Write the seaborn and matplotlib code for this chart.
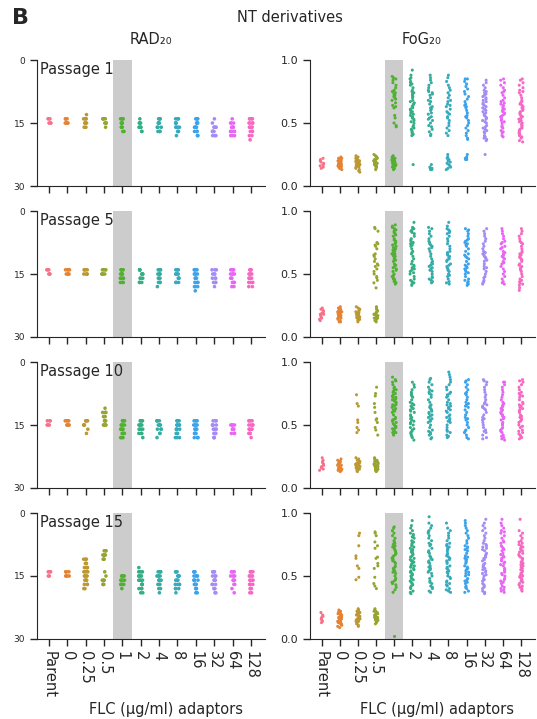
import numpy as np
import pandas as pd
import seaborn as sns
import matplotlib.pyplot as plt

# categories on the x axis (FLC concentration of the adaptors)
concs = ['Parent', '0', '0.25', '0.5', '1', '2', '4', '8', '16', '32', '64', '128']
passages = ['Passage 1', 'Passage 5', 'Passage 10', 'Passage 15']

# RAD20 values: {concentration: {RAD level: number of isolates}}
rad_p1 = {
    'Parent': {14: 3, 15: 3}, '0': {14: 4, 15: 4}, '0.25': {13: 1, 14: 4, 15: 4, 16: 2},
    '0.5': {14: 4, 15: 4, 16: 1}, '1': {14: 4, 15: 4, 16: 3, 17: 2}, '2': {14: 1, 15: 4, 16: 4, 17: 2},
    '4': {14: 4, 15: 4, 16: 3, 17: 3}, '8': {14: 4, 15: 4, 16: 4, 17: 3, 18: 1},
    '16': {14: 4, 15: 4, 16: 4, 17: 3, 18: 2}, '32': {14: 1, 15: 1, 16: 4, 17: 4, 18: 3},
    '64': {14: 1, 15: 3, 16: 4, 17: 4, 18: 3}, '128': {14: 4, 15: 4, 16: 4, 17: 3, 18: 2, 19: 1},
}
rad_p5 = {
    'Parent': {14: 3, 15: 3}, '0': {14: 4, 15: 4}, '0.25': {14: 4, 15: 4}, '0.5': {14: 4, 15: 4},
    '1': {14: 4, 15: 4, 16: 4, 17: 3}, '2': {14: 4, 15: 4, 16: 3, 17: 3},
    '4': {14: 4, 15: 4, 16: 3, 17: 3, 18: 1}, '8': {14: 4, 15: 4, 16: 3, 17: 3},
    '16': {14: 4, 15: 4, 16: 4, 17: 3, 18: 3, 19: 1}, '32': {14: 3, 15: 3, 16: 3, 17: 3, 18: 1},
    '64': {14: 4, 15: 4, 16: 3, 17: 3, 18: 2}, '128': {14: 4, 15: 4, 16: 4, 17: 3, 18: 2},
}
rad_p10 = {
    'Parent': {14: 3, 15: 3}, '0': {14: 4, 15: 4}, '0.25': {14: 4, 15: 4, 16: 1, 17: 1},
    '0.5': {11: 1, 12: 3, 13: 3, 14: 4, 15: 4}, '1': {14: 4, 15: 4, 16: 4, 17: 4, 18: 3},
    '2': {14: 4, 15: 4, 16: 4, 17: 3, 18: 1}, '4': {14: 4, 15: 4, 16: 3, 17: 2, 18: 1},
    '8': {14: 4, 15: 4, 16: 4, 17: 3, 18: 3}, '16': {14: 4, 15: 4, 16: 4, 17: 4, 18: 3},
    '32': {14: 3, 15: 4, 16: 4, 17: 3, 18: 3}, '64': {15: 4, 16: 4, 17: 3},
    '128': {14: 4, 15: 4, 16: 4, 17: 3, 18: 1},
}
rad_p15 = {
    'Parent': {14: 3, 15: 2}, '0': {14: 4, 15: 4},
    '0.25': {11: 3, 12: 3, 13: 4, 14: 4, 15: 4, 16: 4, 17: 3, 18: 2},
    '0.5': {9: 3, 10: 4, 11: 3, 14: 1, 15: 1, 16: 3, 17: 3}, '1': {15: 4, 16: 4, 17: 4, 18: 1},
    '2': {13: 1, 14: 4, 15: 4, 16: 4, 17: 4, 18: 3, 19: 2}, '4': {14: 4, 15: 4, 16: 4, 17: 3, 18: 2, 19: 1},
    '8': {14: 4, 15: 4, 16: 4, 17: 4, 18: 3, 19: 1}, '16': {14: 4, 15: 4, 16: 4, 17: 4, 18: 3, 19: 2},
    '32': {14: 4, 15: 4, 16: 4, 17: 3, 18: 3, 19: 2}, '64': {14: 4, 15: 4, 16: 3, 17: 2, 18: 1, 19: 1},
    '128': {14: 4, 15: 4, 16: 4, 17: 4, 18: 3, 19: 2},
}

# FoG20 values, in percent
fog_p1 = {
    'Parent': [14, 15, 16, 17, 17, 18, 19, 20, 21, 22],
    '0': [13, 14, 14, 15, 15, 16, 16, 17, 17, 18, 18, 18, 19, 19, 20, 20, 21, 21, 22, 22, 23, 16],
    '0.25': [11, 12, 13, 14, 15, 15, 16, 16, 17, 17, 18, 18, 19, 19, 20, 20, 21, 22, 22, 23, 24, 17],
    '0.5': [13, 14, 15, 15, 16, 16, 17, 17, 18, 18, 18, 19, 19, 20, 20, 21, 21, 22, 22, 23, 23, 24, 25, 17],
    '1': [13, 14, 15, 15, 16, 16, 17, 17, 18, 18, 19, 19, 20, 20, 21, 21, 22, 22, 23, 24,
          47, 48, 50, 54, 56, 62, 63, 64, 66, 68, 69, 70, 71, 72, 73, 74, 75, 76, 78, 80, 82, 84, 85, 86, 87],
    '2': [17, 40, 41, 42, 43, 44, 45, 46, 47, 48, 50, 51, 52, 53, 54, 55, 56, 57, 58, 59, 60, 61, 62, 63,
          64, 65, 66, 67, 68, 70, 71, 72, 73, 74, 75, 76, 78, 80, 81, 82, 83, 85, 86, 88, 92],
    '4': [13, 13, 14, 14, 15, 17, 40, 41, 43, 45, 47, 48, 50, 52, 53, 54, 55, 57, 58, 60, 61, 62, 63, 65,
          67, 68, 70, 72, 73, 74, 75, 76, 78, 80, 82, 84, 86, 88],
    '8': [13, 14, 15, 16, 17, 18, 19, 20, 21, 22, 23, 25, 40, 42, 44, 46, 48, 50, 52, 54, 55, 57, 58, 59,
          61, 63, 64, 65, 67, 68, 70, 72, 74, 76, 78, 80, 83, 86, 88],
    '16': [21, 21, 22, 22, 23, 25, 37, 38, 40, 42, 44, 46, 48, 50, 52, 54, 55, 56, 58, 60, 62, 63, 64, 65,
           67, 69, 71, 73, 75, 77, 79, 81, 83, 85, 85],
    '32': [25, 36, 37, 38, 39, 40, 42, 43, 44, 45, 46, 47, 48, 50, 51, 52, 53, 54, 55, 56, 57, 58, 59, 60,
           61, 62, 63, 64, 65, 66, 67, 68, 69, 70, 71, 72, 73, 74, 75, 76, 78, 80, 82, 84],
    '64': [39, 40, 42, 43, 44, 46, 47, 48, 50, 51, 52, 53, 54, 55, 56, 57, 58, 59, 60, 61, 62, 63, 64, 65,
           66, 67, 68, 70, 72, 74, 75, 76, 78, 80, 82, 84, 85],
    '128': [35, 36, 38, 39, 40, 41, 42, 43, 44, 45, 46, 47, 48, 49, 50, 51, 52, 53, 54, 55, 56, 57, 58, 59,
            60, 61, 62, 63, 64, 65, 66, 67, 68, 70, 72, 74, 75, 76, 78, 80, 82, 84, 85],
}
fog_p5 = {
    'Parent': [13, 14, 15, 16, 17, 18, 19, 20, 21, 22, 23, 18],
    '0': [12, 12, 13, 14, 15, 15, 16, 16, 17, 17, 18, 18, 19, 19, 20, 21, 21, 22, 23, 24, 16, 20],
    '0.25': [12, 13, 14, 14, 15, 15, 16, 17, 17, 18, 18, 19, 19, 20, 20, 21, 22, 23, 24, 16],
    '0.5': [12, 13, 14, 15, 15, 16, 17, 17, 18, 19, 20, 20, 21, 22, 23, 24, 18, 16,
            39, 43, 45, 47, 48, 52, 54, 56, 58, 60, 62, 64, 65, 66, 70, 72, 73, 74, 75, 84, 86, 87, 57, 50],
    '1': [42, 43, 44, 45, 46, 47, 48, 49, 50, 52, 53, 54, 55, 56, 57, 58, 60, 61, 62, 63, 64, 65, 66, 67,
          68, 69, 70, 71, 72, 73, 74, 75, 76, 77, 78, 80, 81, 82, 83, 84, 85, 86, 87, 88, 89, 44, 46, 64, 66, 70],
    '2': [41, 42, 44, 45, 46, 48, 50, 52, 53, 54, 55, 56, 58, 60, 62, 64, 66, 67, 68, 70, 72, 74, 75, 76,
          77, 78, 80, 82, 83, 84, 85, 86, 87, 91, 43, 51, 57, 73, 74],
    '4': [43, 44, 45, 46, 48, 50, 52, 54, 55, 56, 57, 58, 60, 62, 64, 66, 68, 70, 72, 73, 74, 75, 76, 78,
          80, 82, 84, 86, 87, 47, 53, 59, 71],
    '8': [42, 43, 44, 46, 48, 50, 52, 53, 54, 55, 56, 57, 58, 60, 62, 63, 64, 65, 66, 67, 68, 70, 72, 74,
          76, 78, 80, 82, 83, 84, 85, 86, 88, 91, 49, 61],
    '16': [41, 42, 43, 44, 46, 48, 50, 51, 52, 54, 55, 56, 57, 58, 60, 62, 64, 65, 66, 68, 70, 72, 74, 75,
           76, 77, 78, 80, 82, 84, 85, 86, 45, 53, 63, 73],
    '32': [42, 43, 44, 45, 47, 48, 50, 52, 54, 55, 56, 58, 60, 62, 63, 64, 65, 66, 68, 70, 72, 74, 76, 78,
           80, 82, 84, 86, 61, 67],
    '64': [42, 43, 44, 46, 48, 50, 52, 54, 56, 58, 60, 62, 63, 64, 65, 66, 67, 68, 70, 72, 74, 75, 76, 78,
           80, 82, 84, 86, 59, 71],
    '128': [37, 39, 41, 42, 43, 44, 45, 46, 48, 50, 52, 53, 54, 55, 56, 57, 58, 60, 61, 62, 63, 64, 65, 66,
            67, 68, 70, 72, 74, 75, 76, 78, 80, 82, 84, 86],
}
fog_p10 = {
    'Parent': [14, 15, 16, 17, 18, 19, 20, 21, 22, 24],
    '0': [13, 14, 14, 15, 15, 16, 16, 17, 17, 18, 18, 19, 19, 20, 20, 21, 21, 22, 23, 17],
    '0.25': [13, 14, 15, 15, 16, 16, 17, 17, 18, 18, 19, 19, 20, 20, 21, 21, 22, 23, 24, 18,
             44, 46, 48, 52, 54, 65, 67, 74],
    '0.5': [13, 14, 14, 15, 15, 16, 16, 17, 17, 18, 18, 19, 19, 20, 20, 21, 21, 22, 22, 23, 24, 18,
            42, 46, 48, 52, 54, 55, 60, 64, 67, 73, 75, 80],
    '1': [42, 43, 44, 45, 46, 47, 48, 49, 50, 51, 52, 53, 54, 55, 56, 58, 60, 61, 62, 63, 64, 65, 66, 67,
          68, 69, 70, 71, 72, 73, 74, 75, 76, 77, 78, 79, 80, 82, 84, 85, 86, 88, 44, 48, 54, 66, 70, 72],
    '2': [38, 40, 41, 42, 43, 44, 45, 46, 48, 50, 51, 52, 53, 54, 55, 56, 57, 58, 60, 62, 63, 64, 65, 66,
          67, 68, 70, 72, 73, 74, 75, 76, 78, 80, 82, 84, 47, 61],
    '4': [39, 40, 42, 43, 44, 45, 46, 48, 50, 52, 53, 54, 55, 56, 58, 60, 61, 62, 63, 64, 65, 66, 68, 70,
          72, 74, 75, 76, 77, 78, 80, 82, 84, 86, 87, 57, 59],
    '8': [40, 41, 42, 44, 45, 46, 48, 50, 52, 53, 54, 55, 56, 57, 58, 60, 62, 63, 64, 65, 66, 67, 68, 70,
          72, 73, 74, 75, 76, 78, 80, 82, 84, 86, 88, 90, 92, 61],
    '16': [39, 40, 42, 44, 45, 46, 48, 50, 52, 54, 55, 56, 58, 60, 62, 64, 65, 66, 67, 68, 70, 72, 74, 75,
           76, 78, 80, 82, 84, 85, 86],
    '32': [39, 40, 42, 44, 45, 46, 48, 50, 52, 54, 55, 56, 58, 60, 62, 63, 64, 65, 66, 67, 68, 70, 72, 74,
           76, 78, 80, 82, 84, 85, 86],
    '64': [38, 39, 40, 41, 42, 44, 45, 46, 47, 48, 50, 51, 52, 54, 55, 56, 57, 58, 59, 60, 61, 62, 63, 64,
           65, 66, 67, 68, 70, 72, 74, 76, 78, 80, 82, 84, 84],
    '128': [39, 40, 41, 42, 43, 44, 45, 46, 48, 49, 50, 52, 53, 54, 55, 56, 57, 58, 60, 61, 62, 63, 64, 65,
            66, 67, 68, 70, 72, 73, 74, 75, 76, 78, 80, 82, 84, 85, 86],
}
fog_p15 = {
    'Parent': [13, 14, 15, 16, 17, 18, 19, 21],
    '0': [9, 10, 11, 11, 12, 12, 13, 13, 14, 14, 15, 15, 16, 16, 17, 17, 18, 18, 19, 19, 20, 20, 21, 21,
          22, 22, 23, 12, 14, 16, 18, 20, 15, 17],
    '0.25': [10, 11, 12, 13, 14, 14, 15, 15, 16, 16, 17, 17, 18, 18, 19, 19, 20, 20, 21, 21, 22, 22, 23,
             24, 16, 47, 49, 56, 58, 64, 66, 74, 82, 84],
    '0.5': [12, 13, 14, 14, 15, 15, 16, 16, 17, 17, 18, 18, 19, 19, 20, 20, 21, 21, 22, 22, 23, 24, 17, 19,
            40, 42, 44, 49, 56, 58, 60, 64, 65, 72, 74, 77, 82, 84, 85],
    '1': [2, 37, 39, 41, 43, 44, 45, 46, 48, 50, 52, 54, 55, 56, 57, 58, 60, 62, 63, 64, 65, 66, 67, 68,
          70, 71, 72, 73, 74, 75, 76, 77, 78, 80, 82, 84, 86, 88, 89, 47, 53, 61, 69],
    '2': [36, 37, 38, 40, 41, 42, 43, 44, 45, 46, 47, 48, 50, 51, 52, 53, 54, 55, 56, 57, 58, 59, 60, 61,
          62, 63, 64, 65, 66, 67, 68, 69, 70, 71, 72, 73, 74, 75, 76, 77, 78, 80, 81, 82, 83, 84, 86, 88,
          90, 94, 49, 58, 62, 70],
    '4': [37, 38, 40, 41, 42, 44, 45, 46, 48, 50, 52, 53, 54, 55, 56, 58, 60, 61, 62, 63, 64, 66, 68, 69,
          70, 72, 74, 75, 76, 78, 80, 82, 84, 85, 86, 88, 90, 92, 97, 57, 65],
    '8': [37, 38, 39, 40, 42, 43, 44, 45, 46, 48, 49, 50, 52, 53, 54, 55, 56, 57, 58, 60, 61, 62, 63, 64,
          65, 66, 67, 68, 70, 71, 72, 73, 74, 75, 76, 78, 80, 82, 84, 86, 88, 92],
    '16': [37, 38, 40, 41, 42, 44, 45, 46, 47, 48, 50, 51, 52, 53, 54, 55, 56, 57, 58, 60, 61, 62, 63, 64,
           65, 66, 68, 70, 71, 72, 73, 74, 76, 78, 80, 82, 84, 86, 88, 90, 92, 94],
    '32': [36, 37, 38, 40, 41, 42, 43, 44, 46, 47, 48, 50, 51, 52, 53, 54, 55, 56, 57, 58, 59, 60, 62, 63,
           64, 65, 66, 67, 68, 70, 71, 72, 73, 74, 75, 76, 78, 80, 82, 84, 86, 88, 90, 92, 95],
    '64': [37, 38, 39, 40, 41, 42, 44, 45, 46, 47, 48, 50, 51, 52, 53, 54, 55, 56, 58, 59, 60, 61, 62, 63,
           64, 65, 66, 67, 68, 70, 71, 72, 73, 74, 76, 77, 78, 80, 82, 84, 85, 86, 88, 90, 92, 95],
    '128': [38, 39, 40, 41, 42, 43, 44, 45, 46, 47, 48, 49, 50, 51, 52, 53, 54, 55, 56, 57, 58, 59, 60, 61,
            62, 63, 64, 65, 66, 67, 68, 69, 70, 71, 72, 73, 74, 75, 76, 77, 78, 80, 82, 84, 86, 95, 50, 60],
}

rad_all = [rad_p1, rad_p5, rad_p10, rad_p15]
fog_all = [fog_p1, fog_p5, fog_p10, fog_p15]


def rad_frame(d):
    rows = []
    for conc in concs:
        for level, n in d[conc].items():
            rows += [(conc, level)] * n
    return pd.DataFrame(rows, columns=['conc', 'value'])


def fog_frame(d):
    rows = []
    for conc in concs:
        rows += [(conc, v / 100) for v in d[conc]]
    return pd.DataFrame(rows, columns=['conc', 'value'])


sns.set_style('ticks')
plt.rcParams['font.family'] = ['DejaVu Sans']
np.random.seed(3)

pal = sns.color_palette('husl', len(concs))
fig = plt.figure(figsize=(5.37, 7.19), dpi=100)

lefts = [0.069, 0.577]
widths = [0.4246, 0.419]
bottoms = [0.7413, 0.5313, 0.3213, 0.1113]
h = 0.1752

for r in range(4):
    for c in range(2):
        ax = fig.add_axes([lefts[c], bottoms[r], widths[c], h])
        ax.axvspan(3.5, 4.5, color='#cccccc', lw=0, zorder=0)
        df = rad_frame(rad_all[r]) if c == 0 else fog_frame(fog_all[r])
        sns.stripplot(data=df, x='conc', y='value', hue='conc', order=concs,
                      hue_order=concs, palette=pal, size=2.6 if c == 0 else 2.2,
                      jitter=0.12, linewidth=0, legend=False, ax=ax, zorder=2)
        ax.set_xlim(-0.65, 11.77)
        if c == 0:
            ax.set_ylim(30, 0)
            ax.set_yticks([0, 15, 30])
            ax.tick_params(axis='y', labelsize=6.5)
            ax.text(0.013, 0.985, passages[r], transform=ax.transAxes,
                    ha='left', va='top', fontsize=10.5)
        else:
            ax.set_ylim(0, 1)
            ax.set_yticks([0, 0.5, 1])
            ax.set_yticklabels(['0.0', '0.5', '1.0'])
            ax.tick_params(axis='y', labelsize=8)
        ax.tick_params(axis='both', length=5, width=1)
        ax.set_ylabel('')
        sns.despine(ax=ax)
        if r == 3:
            ax.set_xticks(range(len(concs)))
            ax.set_xticklabels(concs, rotation=270, fontsize=10.5)
            ax.set_xlabel('FLC (μg/ml) adaptors', fontsize=10.5)
            ax.xaxis.set_label_coords(0.566 if c == 0 else 0.564, -0.5)
        else:
            ax.set_xticklabels([])
            ax.set_xlabel('')

fig.text(12 / 537, 1 - 18 / 719, 'B', fontsize=16, fontweight='bold', ha='left', va='center')
fig.text(290 / 537, 1 - 17 / 719, 'NT derivatives', fontsize=10.5, ha='center', va='center')
fig.text(151 / 537, 1 - 40 / 719, 'RAD₂₀', fontsize=10.5, ha='center', va='center')
fig.text(422 / 537, 1 - 40 / 719, 'FoG₂₀', fontsize=10.5, ha='center', va='center')

fig.savefig('out.png', dpi=100)
